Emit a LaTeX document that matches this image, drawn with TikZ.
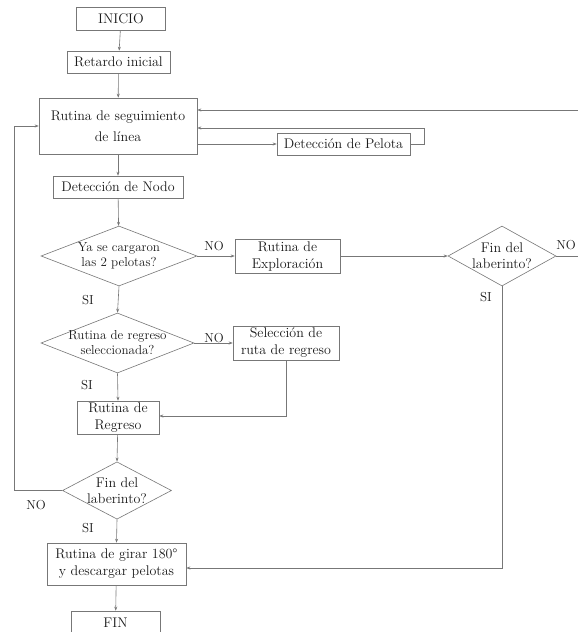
\documentclass[tikz,border=0pt]{standalone}
\usetikzlibrary{shapes.geometric,arrows.meta,calc}
\definecolor{linegray}{HTML}{777777}
\definecolor{txt}{HTML}{1A1A1A}
\begin{document}
\begin{tikzpicture}[x=1pt,y=-1pt,
  every node/.style={text=txt},
  box/.style={draw=linegray,line width=0.6pt,rectangle,inner sep=0pt,align=center,
    font=\fontsize{14}{17}\selectfont},
  dec/.style={draw=linegray,line width=0.6pt,diamond,inner sep=0pt,align=center,
    font=\fontsize{13}{15}\selectfont},
  lbl/.style={font=\fontsize{13}{15}\selectfont,inner sep=0pt},
  arr/.style={draw=linegray,line width=0.6pt,-{Stealth[length=4pt,width=3pt]}},
  ln/.style={draw=linegray,line width=0.6pt}]
\clip (0,0) rectangle (578,632);
\fill[white] (0,0) rectangle (578,632);

\node[box,minimum width=89pt,minimum height=23pt] (inicio) at (121,19) {INICIO};
\node[box,minimum width=103pt,minimum height=22pt] (retardo) at (118.5,62) {Retardo inicial};
\node[box,minimum width=158pt,minimum height=56pt] (ruta) at (118,126) {Rutina de seguimiento\\[4pt]de línea};
\node[box,minimum width=133pt,minimum height=22pt] (pelota) at (343.5,144) {Detección de Pelota};
\node[box,minimum width=130pt,minimum height=22pt] (nodo) at (118,187) {Detección de Nodo};
\node[dec,aspect=2.6,minimum width=156pt,minimum height=60pt] (d1) at (119,256) {Ya se cargaron\\las 2 pelotas?};
\node[box,minimum width=105pt,minimum height=34pt] (explor) at (287.5,256) {Rutina de\\Exploración};
\node[dec,aspect=1.8,minimum width=108pt,minimum height=60pt,font=\fontsize{14}{16}\selectfont] (d3) at (502,256) {Fin del\\laberinto?};
\node[dec,aspect=2.55,minimum width=153pt,minimum height=60pt,inner sep=-2pt] (d2) at (117.5,343) {Rutina de regreso\\seleccionada?};
\node[box,minimum width=106pt,minimum height=34pt] (selec) at (286,343) {Selección de\\ruta de regreso};
\node[box,minimum width=82pt,minimum height=33pt] (regreso) at (118,417.5) {Rutina de\\Regreso};
\node[dec,aspect=1.9,minimum width=108pt,minimum height=57pt,font=\fontsize{14}{16}\selectfont] (d4) at (117,490.5) {Fin del\\laberinto?};
\node[box,minimum width=139pt,minimum height=42pt] (girar) at (116.5,564) {Rutina de girar 180°\\y descargar pelotas};
\node[box,minimum width=89pt,minimum height=23pt] (fin) at (115.5,622.5) {FIN};

\coordinate (topin) at (580,110);
\coordinate (noout) at (580,256);
\coordinate (ploop) at (424,128);
\coordinate (sloop) at (286,416);
\coordinate (lloop) at (14,490.5);
\coordinate (rloop) at (501,568);

\draw[arr] (inicio) -- (retardo);
\draw[arr] (retardo) -- (ruta);
\draw[arr] (ruta) -- (nodo);
\draw[arr] (nodo) -- (d1);
\draw[arr] (topin) -- (topin -| ruta.east);
\draw[arr] (ruta.east |- pelota.west) -- (pelota.west);
\draw[arr] (pelota.east) -| (ploop) -- (ploop -| ruta.east);
\draw[arr] (d1.east) -- (explor.west);
\draw[arr] (explor.east) -- (d3.west);
\draw[ln] (d3.east) -- (noout);
\draw[arr] (d1.south) -- (d2.north);
\draw[arr] (d2.east) -- (selec.west);
\draw[arr] (selec.south) -- (sloop) -- (sloop -| regreso.east);
\draw[arr] (d2.south) -- (regreso.north);
\draw[arr] (regreso) -- (d4.north);
\draw[arr] (d4.west) -- (lloop) |- (ruta.west);
\draw[arr] (d4.south) -- (girar.north);
\draw[arr] (d3.south) -- (d3.south |- rloop) -- (rloop -| girar.east);
\draw[arr] (girar) -- (fin);

\node[lbl] (no1) at (214,246) {NO};
\node[lbl] (si1) at (88,300) {SI};
\node[lbl] (no2) at (214,338) {NO};
\node[lbl] (si2) at (87,385) {SI};
\node[lbl] (no3) at (566,245) {NO};
\node[lbl] (si3) at (486,297) {SI};
\node[lbl] (no4) at (36,505) {NO};
\node[lbl] (si4) at (88,528) {SI};
\end{tikzpicture}
\end{document}
